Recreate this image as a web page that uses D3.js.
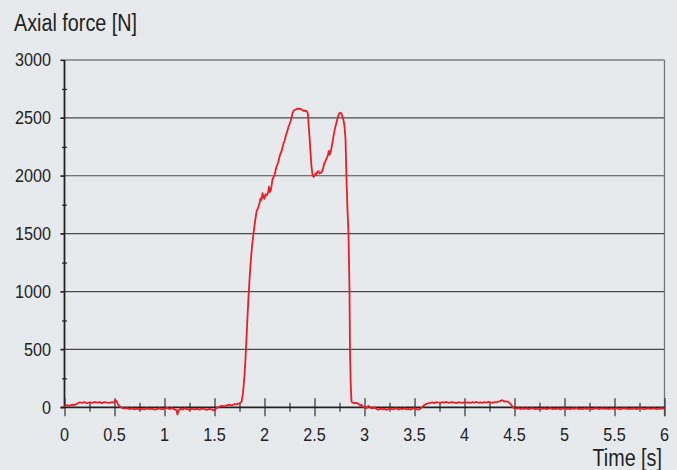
<!DOCTYPE html>
<html><head><meta charset="utf-8">
<script src="https://cdn.jsdelivr.net/npm/d3@7"></script>
<style>
html,body{margin:0;padding:0;background:#e7eaed;}
svg{display:block;}
text{font-family:"Liberation Sans",Arial,sans-serif;fill:#222;}
</style></head>
<body>
<svg id="chart" width="677" height="470"></svg>
<script>
const yTitle = "Axial force [N]";
const xTitle = "Time [s]";
const xTicks = [0,0.5,1,1.5,2,2.5,3,3.5,4,4.5,5,5.5,6];
const xTickLabels = ["0","0.5","1","1.5","2","2.5","3","3.5","4","4.5","5","5.5","6"];
const yTicks = [0,500,1000,1500,2000,2500,3000];
const yTickLabels = ["0","500","1000","1500","2000","2500","3000"];

const times = [
0,0.025,0.05,0.075,0.1,0.125,0.15,0.175,0.2,0.225,0.25,0.275,0.3,0.325,0.35,0.375,0.4,0.425,0.45,0.475,0.5,0.51,0.52,0.535,0.55,
0.575,0.6,0.625,0.65,0.675,0.7,0.725,0.75,0.775,0.8,0.825,0.85,0.875,0.9,0.925,0.95,0.975,1.0,1.025,1.05,1.075,1.1,1.12,1.13,1.14,1.16,1.18,
1.2,1.225,1.25,1.275,1.3,1.325,1.35,1.375,1.4,1.425,1.45,1.475,1.5,1.51,1.525,1.55,1.575,1.6,1.625,1.65,1.675,1.7,1.725,1.75,1.77,
1.785,1.8,1.81,1.82,1.83,1.84,1.85,1.86,1.87,1.88,1.89,1.9,1.91,1.92,1.935,1.95,1.96,1.97,1.98,1.99,2.0,2.01,2.02,2.035,2.045,2.055,2.065,
2.08,2.1,2.12,2.135,2.155,2.17,2.19,2.2,2.215,2.23,2.24,2.25,2.26,2.27,2.28,2.29,2.3,2.32,2.34,2.36,2.37,2.385,2.395,2.41,2.425,2.435,
2.44,2.45,2.46,2.47,2.48,2.49,2.5,2.51,2.52,2.53,2.54,2.55,2.56,2.57,2.58,2.59,2.6,2.61,2.62,2.63,2.64,2.645,2.65,2.66,2.67,2.68,2.69,
2.7,2.71,2.72,2.73,2.74,2.75,2.76,2.77,2.78,2.79,2.8,2.81,2.815,2.82,2.83,2.84,2.85,2.855,2.862,2.87,2.88,2.9,2.92,2.94,2.96,2.97,2.98,
3.0,3.02,3.04,3.06,3.08,3.1,3.12,3.14,3.16,3.18,3.2,3.22,3.24,3.26,3.28,3.3,3.32,3.34,3.36,3.38,3.4,3.42,3.44,3.46,3.48,3.5,3.52,3.54,3.56,3.58,
3.6,3.62,3.64,3.66,3.68,3.7,3.72,3.74,3.76,3.78,3.8,3.82,3.84,3.86,3.88,3.9,3.92,3.94,3.96,3.98,4.0,4.02,4.04,4.06,4.08,4.1,4.12,4.14,4.16,4.18,
4.2,4.22,4.24,4.26,4.28,4.3,4.32,4.34,4.36,4.38,4.4,4.42,4.44,4.46,4.48,4.5,4.52,4.54,4.56,4.58,4.6,4.62,4.64,4.66,4.68,4.7,4.72,4.74,4.76,4.78,
4.8,4.82,4.84,4.86,4.88,4.9,4.92,4.94,4.96,4.98,5.0,5.02,5.04,5.06,5.08,5.1,5.12,5.14,5.16,5.18,5.2,5.22,5.24,5.26,5.28,5.3,5.32,5.34,5.36,5.38,
5.4,5.42,5.44,5.46,5.48,5.5,5.52,5.54,5.56,5.58,5.6,5.62,5.64,5.66,5.68,5.7,5.72,5.74,5.76,5.78,5.8,5.82,5.84,5.86,5.88,5.9,5.92,5.94,5.96,5.98,6.0
];
const forces = [
10,18,12,22,20,30,42,38,45,35,42,38,46,40,44,36,45,41,38,44,40,62,55,25,10,
-5,-12,-8,-15,-10,-18,-12,-20,-14,-18,-10,-16,-12,-20,-15,-10,-18,-12,-5,-15,-8,-18,-25,-62,-30,-12,-20,
-10,-15,-22,-12,-18,-14,-20,-12,-16,-22,-14,-20,-28,-12,-5,5,12,8,18,22,16,28,25,35,45,
120,280,420,600,780,950,1100,1230,1340,1430,1500,1570,1630,1690,1720,1760,1805,1790,1850,1815,1800,1840,1830,1850,1905,1860,1880,
1970,2006,2078,2110,2180,2210,2280,2300,2352,2390,2424,2445,2467,2500,2540,2560,2568,2575,2580,2578,2572,2565,2558,2565,2555,2530,
2450,2340,2200,2080,2010,1990,2000,2020,2010,2035,2040,2020,2025,2030,2045,2080,2110,2125,2150,2165,2200,2215,2180,2200,2240,2290,2340,
2390,2425,2460,2495,2525,2540,2545,2535,2510,2480,2430,2320,2150,1970,1700,1500,1000,500,200,50,40,35,38,30,15,22,5,
2,-8,12,-5,-10,-2,-15,-20,-12,-18,-14,-22,-15,-10,-18,-14,-8,-20,-12,-16,-10,-18,-14,-20,-12,-8,-15,-20,-12,5,
20,30,35,38,42,36,45,40,38,44,40,46,38,42,45,40,36,44,41,38,45,40,43,37,44,41,46,39,42,38,
44,40,47,42,39,45,43,48,55,62,50,52,45,30,5,-10,-12,-8,-15,-10,-14,-9,-16,-12,-8,-15,-11,-17,-10,-13,
-9,-15,-12,-8,-16,-11,-14,-10,-18,-12,-9,-14,-11,-16,-10,-13,-8,-15,-12,-17,-10,-14,-9,-13,-16,-11,-8,-15,-12,-10,
-14,-9,-16,-12,-11,-15,-8,-13,-17,-10,-12,-9,-15,-11,-14,-10,-16,-12,-8,-13,-15,-11,-9,-14,-12,-10,-16,-13,-9,-12,-11
];

const svg = d3.select("#chart");
const pLeft = 64.5, pRight = 664.5, pTop = 60, pBottom = 407.3;
const x = d3.scaleLinear().domain([0,6]).range([pLeft,pRight]);
const y = d3.scaleLinear().domain([0,3000]).range([pBottom,pTop]);
const narrow = 0.88;

// horizontal gridlines
svg.append("g").selectAll("line").data(yTicks.filter(d=>d>0)).join("line")
  .attr("x1", pLeft-4).attr("x2", pRight)
  .attr("y1", d=>y(d)).attr("y2", d=>y(d))
  .attr("stroke","#4a4a4a").attr("stroke-width",1.2);

// right border
svg.append("line").attr("x1",pRight).attr("x2",pRight).attr("y1",pTop).attr("y2",pBottom+9)
  .attr("stroke","#777").attr("stroke-width",1.3);

// y axis
const yAxis = d3.axisLeft(y).tickValues(d3.range(0,3001,250)).tickSize(0).tickFormat("");
const ya = svg.append("g").attr("transform",`translate(${pLeft},0)`).call(yAxis);
ya.select(".domain").remove();
ya.append("line").attr("x1",0).attr("x2",0).attr("y1",pTop).attr("y2",pBottom).attr("stroke","#222").attr("stroke-width",1.8);
ya.selectAll(".tick line").attr("x1",d=> d%500===0 ? -4 : -2.5).attr("x2",d=> d%500===0 ? 0 : 2.5)
  .attr("stroke","#222").attr("stroke-width",1.2);
svg.append("g").selectAll("text").data(yTicks).join("text")
  .attr("transform", d=>`translate(51,${y(d)}) scale(0.9,1)`).attr("dy","0.36em")
  .attr("text-anchor","end").attr("font-size",18)
  .text((d,i)=>yTickLabels[i]);

// x axis
const xAxis = d3.axisBottom(x).tickValues(d3.range(0,6.001,0.25)).tickSize(0).tickFormat("");
const xa = svg.append("g").attr("transform",`translate(0,${pBottom})`).call(xAxis);
xa.select(".domain").remove();
xa.append("line").attr("x1",pLeft-4).attr("x2",pRight).attr("y1",0).attr("y2",0).attr("stroke","#222").attr("stroke-width",1.8);
xa.selectAll(".tick line").attr("y1",(d,i)=> i%2===0 ? -9 : -4.5).attr("y2",(d,i)=> i%2===0 ? 9 : 4.5)
  .attr("stroke","#333").attr("stroke-width",1.2);
svg.append("g").selectAll("text").data(xTicks).join("text")
  .attr("transform", d=>`translate(${x(d)},440.5) scale(0.9,1)`)
  .attr("text-anchor","middle").attr("font-size",18)
  .text((d,i)=>xTickLabels[i]);

// data line
const pts = times.map((t,i)=>[t,forces[i]]);
svg.append("path").datum(pts)
  .attr("fill","none").attr("stroke","#ee1c25").attr("stroke-width",1.8)
  .attr("stroke-linejoin","round")
  .attr("d", d3.line().x(d=>x(d[0])).y(d=>y(d[1])));

// titles
svg.append("text").attr("transform",`translate(14,30.5) scale(0.86,1)`).attr("font-size",23).text(yTitle);
svg.append("text").attr("transform",`translate(662,466) scale(0.86,1)`).attr("text-anchor","end").attr("font-size",23).text(xTitle);
</script>
</body></html>
